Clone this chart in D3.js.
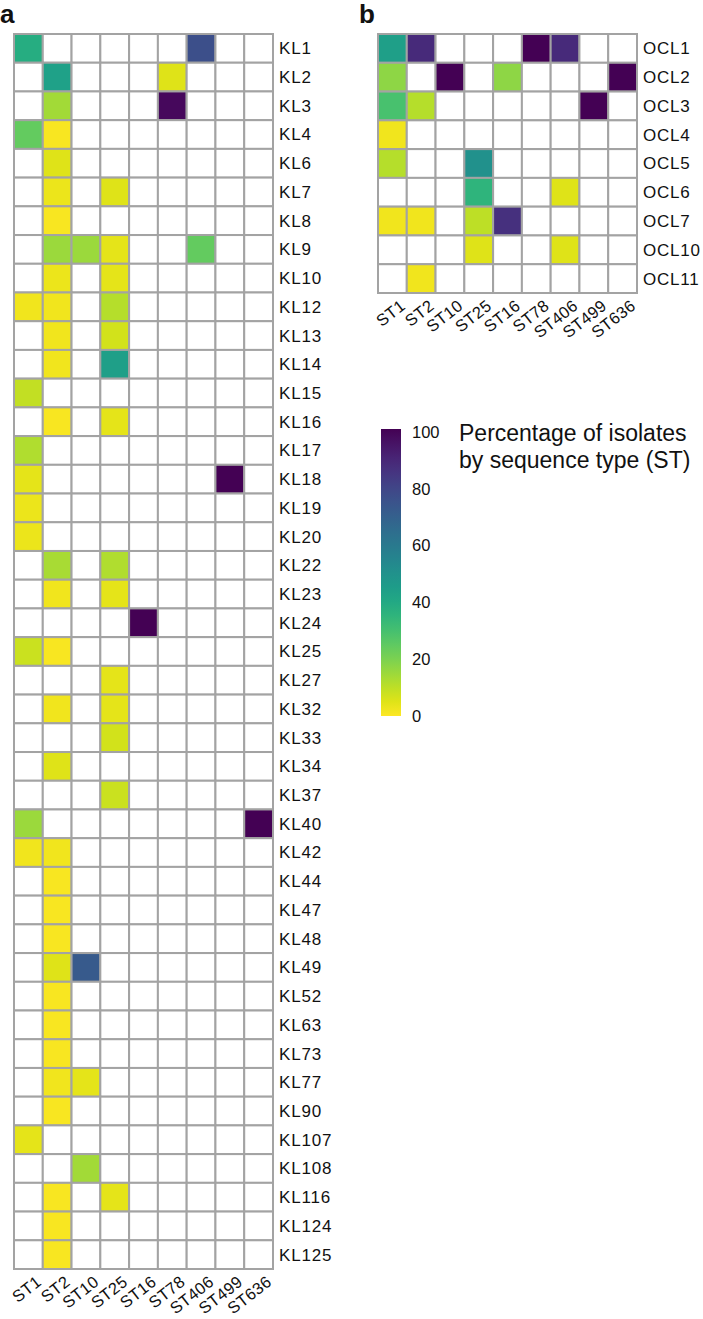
<!DOCTYPE html>
<html><head><meta charset="utf-8">
<script src="https://cdn.jsdelivr.net/npm/d3@7"></script>
<style>body{margin:0;background:#fff}svg{display:block}text{font-family:"Liberation Sans",Arial,sans-serif;fill:#111}</style>
</head><body><svg id="c" width="703" height="1319"></svg>
<script>
const columns = ["ST1","ST2","ST10","ST25","ST16","ST78","ST406","ST499","ST636"];
const rowsA = ["KL1","KL2","KL3","KL4","KL6","KL7","KL8","KL9","KL10","KL12","KL13","KL14","KL15","KL16","KL17","KL18","KL19","KL20","KL22","KL23","KL24","KL25","KL27","KL32","KL33","KL34","KL37","KL40","KL42","KL44","KL47","KL48","KL49","KL52","KL63","KL73","KL77","KL90","KL107","KL108","KL116","KL124","KL125"];
const _ = null;
const valuesA = [
 [38,_,_,_,_,_,76,_,_],
 [_,43,_,_,_,5,_,_,_],
 [_,14,_,_,_,98,_,_,_],
 [24,1,_,_,_,_,_,_,_],
 [_,5,_,_,_,_,_,_,_],
 [_,3,_,5,_,_,_,_,_],
 [_,1,_,_,_,_,_,_,_],
 [_,15,15,4,_,_,24,_,_],
 [_,3,_,4,_,_,_,_,_],
 [2,2,_,11,_,_,_,_,_],
 [_,2,_,7,_,_,_,_,_],
 [_,2,_,44,_,_,_,_,_],
 [9,_,_,_,_,_,_,_,_],
 [_,1,_,4,_,_,_,_,_],
 [12,_,_,_,_,_,_,_,_],
 [4,_,_,_,_,_,_,100,_],
 [3,_,_,_,_,_,_,_,_],
 [3,_,_,_,_,_,_,_,_],
 [_,13,_,12,_,_,_,_,_],
 [_,2,_,4,_,_,_,_,_],
 [_,_,_,_,100,_,_,_,_],
 [8,1,_,_,_,_,_,_,_],
 [_,_,_,4,_,_,_,_,_],
 [_,2,_,4,_,_,_,_,_],
 [_,_,_,7,_,_,_,_,_],
 [_,5,_,_,_,_,_,_,_],
 [_,_,_,8,_,_,_,_,_],
 [15,_,_,_,_,_,_,_,100],
 [2,2,_,_,_,_,_,_,_],
 [_,1,_,_,_,_,_,_,_],
 [_,1,_,_,_,_,_,_,_],
 [_,1,_,_,_,_,_,_,_],
 [_,5,72,_,_,_,_,_,_],
 [_,1,_,_,_,_,_,_,_],
 [_,1,_,_,_,_,_,_,_],
 [_,1,_,_,_,_,_,_,_],
 [_,2,4,_,_,_,_,_,_],
 [_,1,_,_,_,_,_,_,_],
 [4,_,_,_,_,_,_,_,_],
 [_,_,14,_,_,_,_,_,_],
 [_,1,_,4,_,_,_,_,_],
 [_,1,_,_,_,_,_,_,_],
 [_,1,_,_,_,_,_,_,_]
];
const rowsB = ["OCL1","OCL2","OCL3","OCL4","OCL5","OCL6","OCL7","OCL10","OCL11"];
const valuesB = [
 [44,88,_,_,_,100,88,_,_],
 [17,_,100,_,17,_,_,_,100],
 [29,11,_,_,_,_,_,100,_],
 [2,_,_,_,_,_,_,_,_],
 [11,_,_,50,_,_,_,_,_],
 [_,_,_,35,_,_,5,_,_],
 [2,2,_,10,86,_,_,_,_],
 [_,_,_,5,_,_,5,_,_],
 [_,2,_,_,_,_,_,_,_]
];
const legendTicks = [0,20,40,60,80,100];
const legendTitle = ["Percentage of isolates","by sequence type (ST)"];

const svg = d3.select("#c");
const color = v => d3.interpolateViridis(1 - v/100);
const gridCol = "#a3a3a3";

function heat(rows, values, x0, x1, y0, y1, labelX) {
  const x = d3.scaleBand().domain(columns).range([x0, x1]);
  const y = d3.scaleBand().domain(rows).range([y0, y1]);
  const g = svg.append("g");
  const cells = [];
  rows.forEach((r,i)=>columns.forEach((c,j)=>cells.push({r,c,v:values[i][j]})));
  g.selectAll("rect").data(cells).join("rect")
    .attr("x", d=>x(d.c)).attr("y", d=>y(d.r))
    .attr("width", x.bandwidth()).attr("height", y.bandwidth())
    .attr("fill", d=> d.v==null ? "#fff" : color(d.v))
    .attr("stroke", gridCol).attr("stroke-width", 2);
  // row labels
  const ya = d3.axisRight(y).tickSize(0).tickPadding(0);
  const ag = svg.append("g").attr("transform", `translate(${labelX},0)`).call(ya);
  ag.select(".domain").remove();
  ag.selectAll("text").attr("font-size", 17).attr("letter-spacing", 0.8)
    .attr("dy","0.35em").attr("x",0).style("text-anchor","start");
  // column labels
  const xa = d3.axisBottom(x).tickSize(0).tickPadding(0);
  const bg = svg.append("g").attr("transform", `translate(0,${y1})`).call(xa);
  bg.select(".domain").remove();
  bg.selectAll(".tick text").attr("font-size", 16.5).attr("letter-spacing", 0.3)
    .attr("y",0).attr("dy",0)
    .attr("transform","translate(14,15) rotate(-38)")
    .style("text-anchor","end");
}

heat(rowsA, valuesA, 14, 273, 34, 1269, 279);
heat(rowsB, valuesB, 378, 637, 34, 293, 643);

svg.append("text").text("a").attr("x",0).attr("y",23).attr("font-size",26).attr("font-weight","bold");
svg.append("text").text("b").attr("x",359).attr("y",23).attr("font-size",26).attr("font-weight","bold");

// legend
const ly = d3.scaleLinear().domain([0,100]).range([716,432]);
const defs = svg.append("defs");
const grad = defs.append("linearGradient").attr("id","vg").attr("x1",0).attr("y1",1).attr("x2",0).attr("y2",0);
d3.range(0,1.0001,0.05).forEach(t=>grad.append("stop").attr("offset",t).attr("stop-color",color(t*100)));
svg.append("rect").attr("x",381).attr("y",ly(100)-3).attr("width",20).attr("height",ly(0)-ly(100)+3).attr("fill","url(#vg)");
const la = d3.axisRight(ly).tickValues(legendTicks).tickSize(0).tickPadding(0);
const lg = svg.append("g").attr("transform","translate(412,0)").call(la);
lg.select(".domain").remove();
lg.selectAll("text").attr("font-size",16.5).attr("x",0).style("text-anchor","start");
svg.append("g").selectAll("text").data(legendTitle).join("text")
  .attr("x",459).attr("y",(d,i)=>441+i*27).attr("font-size",23).text(d=>d);
</script></body></html>
